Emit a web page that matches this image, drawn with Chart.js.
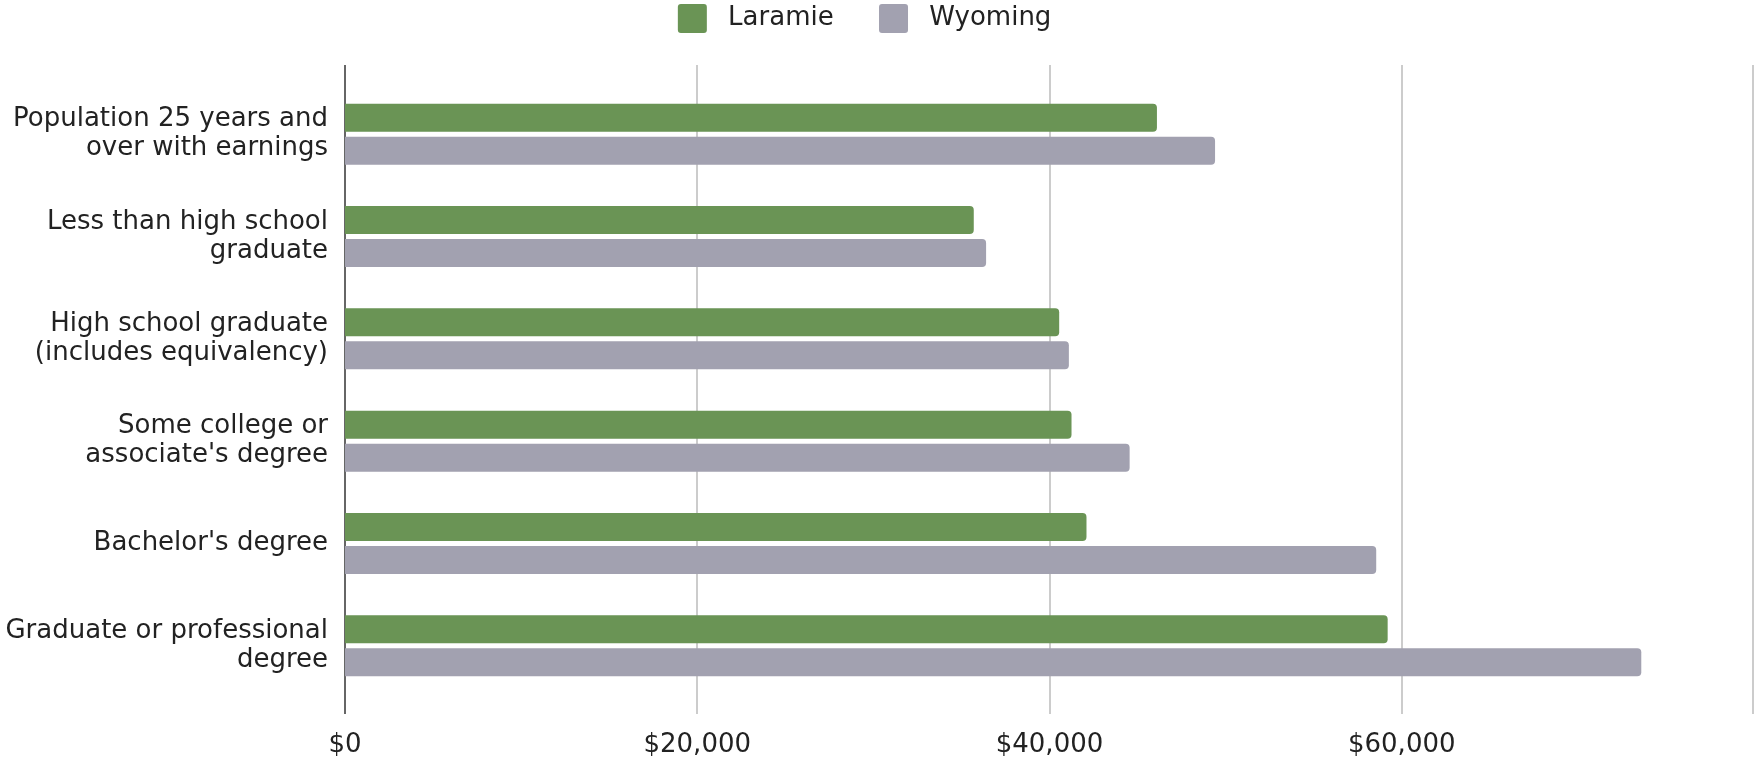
<!DOCTYPE html>
<html>
<head>
<meta charset="utf-8">
<script src="https://cdn.jsdelivr.net/npm/chart.js@4.4.1/dist/chart.umd.min.js"></script>
<style>
  html, body { margin: 0; padding: 0; background: #fff; }
  #myChart { display: block; }
</style>
</head>
<body>
<canvas id="myChart" width="1754" height="761"></canvas>
<script>
var categories = [
    ["Population 25 years and", "over with earnings"],
    ["Less than high school", "graduate"],
    ["High school graduate", "(includes equivalency)"],
    ["Some college or", "associate's degree"],
    "Bachelor's degree",
    ["Graduate or professional", "degree"]
];
var laramieValues = [46100, 35700, 40550, 41250, 42100, 59200];
var wyomingValues = [49400, 36400, 41100, 44550, 58550, 73600];
var seriesNames = ["Laramie", "Wyoming"];
var seriesColors = ["#6a9455", "#a2a1b0"];
var xTicks = [0, 20000, 40000, 60000, 80000];

Chart.defaults.font.family = "'DejaVu Sans', sans-serif";
Chart.defaults.font.size = 26;
Chart.defaults.color = "#222";

// vertical grid lines run a bit past the bars, like the original
var gridPlugin = {
    id: "gridLines",
    beforeInit: function (chart) {
        var fit = chart.legend.fit;
        chart.legend.fit = function () {
            fit.call(this);
            this.height += 40;
        };
    },
    beforeDatasetsDraw: function (chart) {
        var ctx = chart.ctx, area = chart.chartArea, x = chart.scales.x;
        ctx.save();
        xTicks.forEach(function (v) {
            var px = Math.round(x.getPixelForValue(v));
            if (px >= chart.width) px = chart.width - 1;
            ctx.beginPath();
            ctx.lineWidth = v === 0 ? 1.5 : 2;
            ctx.strokeStyle = v === 0 ? "#333" : "#cccccc";
            ctx.moveTo(px, area.top - 18);
            ctx.lineTo(px, area.bottom + 17);
            ctx.stroke();
        });
        ctx.restore();
    }
};

new Chart("myChart", {
    type: "bar",
    data: {
        labels: categories,
        datasets: [{
            label: seriesNames[0],
            data: laramieValues,
            backgroundColor: seriesColors[0],
            borderWidth: 0,
            borderRadius: 4,
            borderSkipped: "start"
        }, {
            label: seriesNames[1],
            data: wyomingValues,
            backgroundColor: seriesColors[1],
            borderWidth: 0,
            borderRadius: 4,
            borderSkipped: "start"
        }]
    },
    options: {
        indexAxis: "y",
        responsive: false,
        animation: false,
        devicePixelRatio: 1,
        categoryPercentage: 0.645,
        barPercentage: 0.85,
        layout: { padding: 0 },
        plugins: {
            tooltip: { enabled: false },
            legend: {
                position: "top",
                labels: {
                    boxWidth: 29,
                    boxHeight: 29,
                    padding: 4,
                    useBorderRadius: true,
                    borderRadius: 3,
                    color: "#222",
                    font: { size: 26 },
                    generateLabels: function (chart) {
                        var items = Chart.defaults.plugins.legend.labels.generateLabels(chart);
                        items[0].text = " " + items[0].text + "     ";
                        items[1].text = " " + items[1].text + "   ";
                        return items;
                    }
                }
            }
        },
        scales: {
            x: {
                min: 0,
                max: 80000,
                grid: { display: false, drawTicks: false },
                border: { display: false },
                afterFit: function (scale) {
                    scale.height = 64;
                    scale.paddingRight = 0;
                },
                ticks: {
                    stepSize: 20000,
                    padding: 33,
                    maxRotation: 0,
                    font: { size: 26, lineHeight: 1.2 },
                    callback: function (v) {
                        if (v >= 80000) return "";
                        return "$" + v.toLocaleString("en-US");
                    }
                }
            },
            y: {
                grid: { display: false, drawTicks: false },
                border: { display: false },
                afterFit: function (scale) { scale.width = 345; },
                ticks: {
                    padding: 17,
                    font: { size: 26, lineHeight: 1.115 }
                }
            }
        }
    },
    plugins: [gridPlugin]
});
</script>
</body>
</html>
